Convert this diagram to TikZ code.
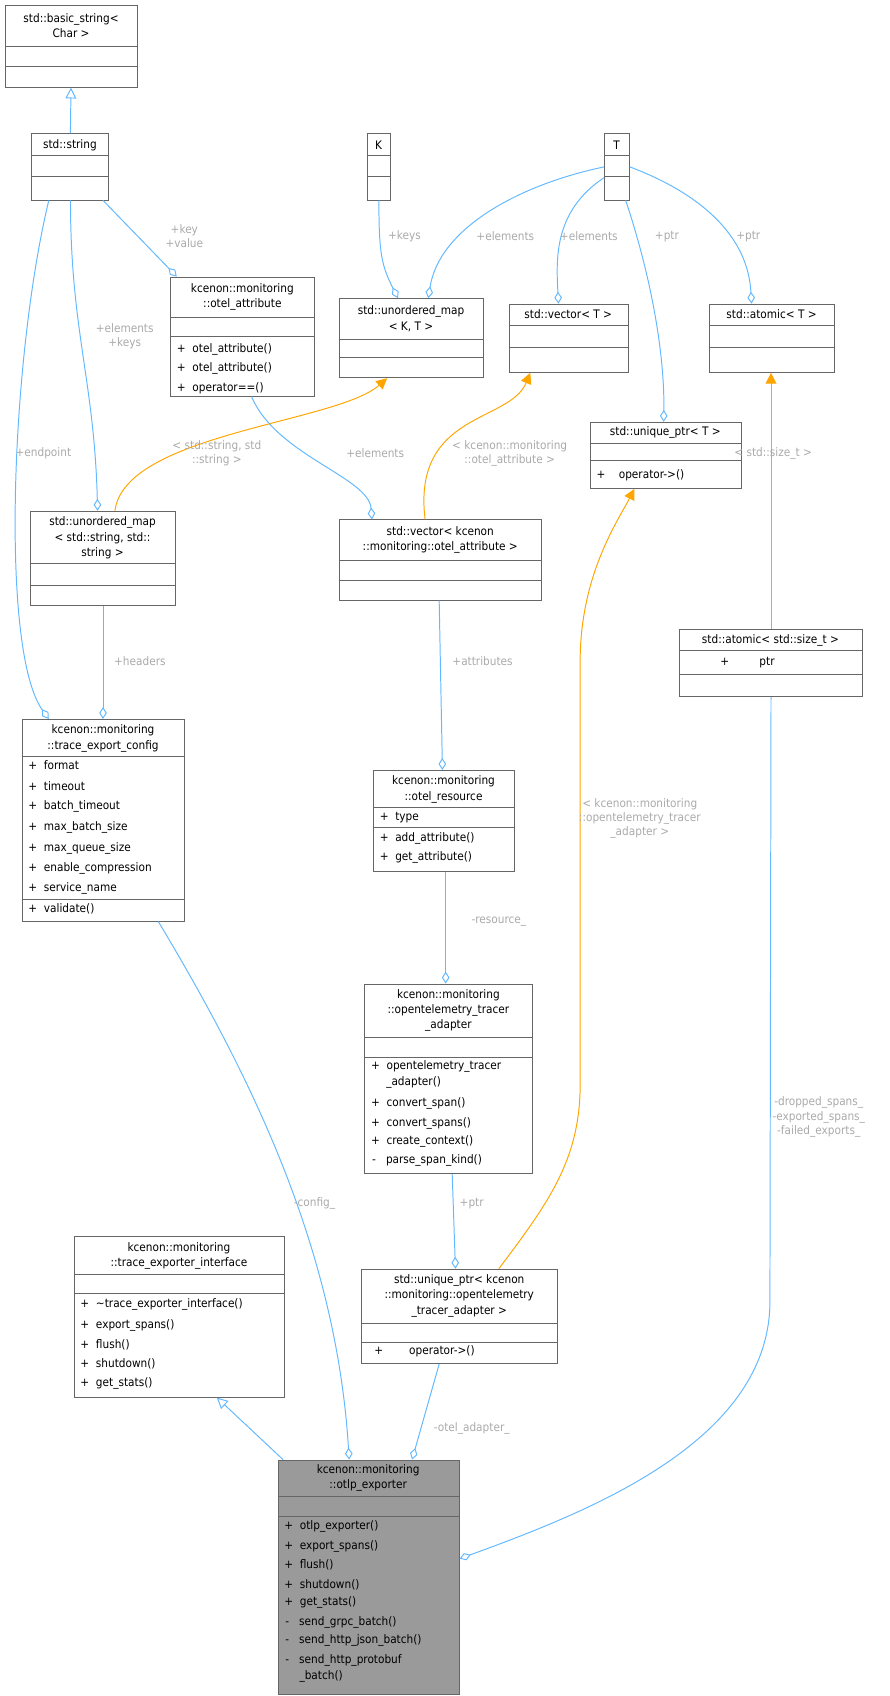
\documentclass[tikz,border=0pt]{standalone}
\usepackage{fontspec}
\setmainfont{DejaVu Sans Condensed}
\usetikzlibrary{arrows.meta}
\definecolor{eblue}{HTML}{63B8FF}
\definecolor{eorange}{HTML}{FFA500}
\definecolor{lgray}{HTML}{9A9A9A}
\definecolor{tgray}{HTML}{AAAAAA}
\definecolor{bgray}{HTML}{666666}
\tikzset{
 box/.style={draw=bgray,line width=0.8pt,inner sep=0pt,anchor=north west},
 dv/.style={draw=bgray,line width=0.8pt},
 txt/.style={inner sep=0pt,font=\fontsize{10.8}{14}\selectfont,text=black},
 ttl/.style={txt,anchor=center,align=center},
 mem/.style={txt,anchor=west},
 lbl/.style={inner sep=0pt,font=\fontsize{10.8}{13}\selectfont,text=tgray,align=center},
 edge/.style={draw=eblue,line width=0.9pt},
 agg/.style={edge,-{Diamond[open,length=11pt,width=7pt]}},
 inh/.style={edge,-{Triangle[open,length=10pt,width=10pt]}},
 tpl/.style={draw=eorange,line width=0.9pt,-{Triangle[length=10pt,width=10pt]}},
}
\newcommand\bx[6][white]{\node[box,fill=#1,minimum width={#5pt-#3pt},minimum height={#6pt-#4pt}] (#2) at (#3,#4) {};}
\newcommand\dvl[3]{\draw[dv] (#1,#3) -- (#2,#3);}
\begin{document}
\begin{tikzpicture}[x=1pt,y=-1pt]
\useasboundingbox (0,0) rectangle (820,1564);
% boxes
\bx{bs}{5}{5}{126}{80}\dvl{5}{126}{43}\dvl{5}{126}{61}
\node[ttl] (bst) at (65.5,24) {std::basic\_string<\\Char >};
\bx{str}{29}{123}{100}{184}\dvl{29}{100}{143}\dvl{29}{100}{163}
\node[ttl] (strt) at (64.5,134) {std::string};
\bx{K}{338}{123}{360}{184}\dvl{338}{360}{143}\dvl{338}{360}{163}
\node[ttl] (Kt) at (349,134) {K};
\bx{T}{557}{123}{580}{184}\dvl{557}{580}{143}\dvl{557}{580}{163}
\node[ttl] (Tt) at (568.5,134) {T};
\bx{oa}{157}{255}{290}{365}\dvl{157}{290}{293}\dvl{157}{290}{310}
\node[ttl] (oat) at (223.5,274) {kcenon::monitoring\\::otel\_attribute};
\node[mem] (oa1) at (163,322) {+\ \ otel\_attribute()};
\node[mem] (oa2) at (163,340) {+\ \ otel\_attribute()};
\node[mem] (oa3) at (163,358) {+\ \ operator==()};
\bx{umKT}{313}{275}{445}{348}\dvl{313}{445}{313}\dvl{313}{445}{330}
\node[ttl] (umKTt) at (379,294) {std::unordered\_map\\< K, T >};
\bx{vT}{469}{280}{579}{343}\dvl{469}{579}{300}\dvl{469}{579}{320}
\node[ttl] (vTt) at (524,290) {std::vector< T >};
\bx{aT}{654}{280}{769}{343}\dvl{654}{769}{300}\dvl{654}{769}{320}
\node[ttl] (aTt) at (711.5,290) {std::atomic< T >};
\bx{upT}{544}{389}{683}{450}\dvl{544}{683}{409}\dvl{544}{683}{425}
\node[ttl] (upTt) at (613.5,399) {std::unique\_ptr< T >};
\node[mem] (upT1) at (550,438) {+\ \ \ \ operator->()};
\bx{umSS}{28}{471}{161}{558}\dvl{28}{161}{520}\dvl{28}{161}{540}
\node[ttl] (umSSt) at (94.5,496) {std::unordered\_map\\< std::string, std::\\string >};
\bx{vOA}{313}{479}{499}{553}\dvl{313}{499}{517}\dvl{313}{499}{535}
\node[ttl] (vOAt) at (406,498) {std::vector< kcenon\\::monitoring::otel\_attribute >};
\bx{aST}{626}{580}{795}{642}\dvl{626}{795}{600}\dvl{626}{795}{622}
\node[ttl] (aSTt) at (710.5,591) {std::atomic< std::size\_t >};
\node[mem] (aST1) at (664,611) {+\hspace{28pt}ptr};
\bx{tec}{20}{663}{170}{849}\dvl{20}{170}{698}\dvl{20}{170}{829}
\node[ttl] (tect) at (95,681) {kcenon::monitoring\\::trace\_export\_config};
\node[mem] (tec1) at (26,706) {+\ \ format};
\node[mem] (tec2) at (26,725) {+\ \ timeout};
\node[mem] (tec3) at (26,744) {+\ \ batch\_timeout};
\node[mem] (tec4) at (26,763) {+\ \ max\_batch\_size};
\node[mem] (tec5) at (26,782) {+\ \ max\_queue\_size};
\node[mem] (tec6) at (26,801) {+\ \ enable\_compression};
\node[mem] (tec7) at (26,819) {+\ \ service\_name};
\node[mem] (tec8) at (26,838) {+\ \ validate()};
\bx{ores}{344}{710}{474}{803}\dvl{344}{474}{745}\dvl{344}{474}{763}
\node[ttl] (orest) at (409,728) {kcenon::monitoring\\::otel\_resource};
\node[mem] (ores1) at (350,754) {+\ \ type};
\node[mem] (ores2) at (350,773) {+\ \ add\_attribute()};
\node[mem] (ores3) at (350,791) {+\ \ get\_attribute()};
\bx{ota}{336}{907}{491}{1082}\dvl{336}{491}{957}\dvl{336}{491}{975}
\node[ttl] (otat) at (413.5,932) {kcenon::monitoring\\::opentelemetry\_tracer\\\_adapter};
\node[mem] (ota1) at (342,983) {+\ \ opentelemetry\_tracer};
\node[mem] (ota1b) at (356,998) {\_adapter()};
\node[mem] (ota2) at (342,1018) {+\ \ convert\_span()};
\node[mem] (ota3) at (342,1036) {+\ \ convert\_spans()};
\node[mem] (ota4) at (342,1053) {+\ \ create\_context()};
\node[mem] (ota5) at (343,1070) {-\ \ \ parse\_span\_kind()};
\bx{tei}{68}{1140}{262}{1288}\dvl{68}{262}{1175}\dvl{68}{262}{1193}
\node[ttl] (teit) at (165,1158) {kcenon::monitoring\\::trace\_exporter\_interface};
\node[mem] (tei1) at (74,1203) {+\ \ \textasciitilde trace\_exporter\_interface()};
\node[mem] (tei2) at (74,1222) {+\ \ export\_spans()};
\node[mem] (tei3) at (74,1240) {+\ \ flush()};
\node[mem] (tei4) at (74,1258) {+\ \ shutdown()};
\node[mem] (tei5) at (74,1276) {+\ \ get\_stats()};
\bx{upA}{333}{1170}{514}{1257}\dvl{333}{514}{1220}\dvl{333}{514}{1238}
\node[ttl] (upAt) at (423.5,1195) {std::unique\_ptr< kcenon\\::monitoring::opentelemetry\\\_tracer\_adapter >};
\node[mem] (upA1) at (345,1246) {+\hspace{24pt}operator->()};
\bx[lgray]{otlp}{256}{1346}{423}{1562}\dvl{256}{423}{1380}\dvl{256}{423}{1398}
\node[ttl] (otlpt) at (339.5,1363) {kcenon::monitoring\\::otlp\_exporter};
\node[mem] (o1) at (262,1408) {+\ \ otlp\_exporter()};
\node[mem] (o2) at (262,1426) {+\ \ export\_spans()};
\node[mem] (o3) at (262,1443) {+\ \ flush()};
\node[mem] (o4) at (262,1461) {+\ \ shutdown()};
\node[mem] (o5) at (262,1478) {+\ \ get\_stats()};
\node[mem] (o6) at (263,1496) {-\ \ \ send\_grpc\_batch()};
\node[mem] (o7) at (263,1513) {-\ \ \ send\_http\_json\_batch()};
\node[mem] (o8) at (263,1531) {-\ \ \ send\_http\_protobuf};
\node[mem] (o8b) at (276,1546) {\_batch()};
% edges
\draw[inh] (str.north) -- ([xshift=60.5pt]bs.south west);
\draw[agg] ([xshift=66pt]str.south west) -- ([xshift=6pt]oa.north west);
\node[lbl] (l1) at (170,218) {+key\\+value};
\draw[agg] ([xshift=36pt]str.south west) .. controls +(0,120) and +(-3,-120) .. ([xshift=62pt]umSS.north west);
\node[lbl] (l2) at (115,310) {+elements\\+keys};
\draw[agg] ([xshift=16pt]str.south west) .. controls (10,330) and (0,600) .. ([xshift=25pt]tec.north west);
\node[lbl] (l3) at (40,418) {+endpoint};
\draw[agg] (K.south) .. controls +(0,50) and +(-15,-30) .. ([xshift=54pt]umKT.north west);
\node[lbl] (l4) at (373,218) {+keys};
\draw[agg] (T.west) .. controls (480,170) and (405,210) .. ([xshift=82pt]umKT.north west);
\node[lbl] (l5) at (466,218) {+elements};
\draw[agg] ([yshift=-10pt]T.west) .. controls (510,195) and (513,240) .. ([xshift=46pt]vT.north west);
\node[lbl] (l6) at (543,218) {+elements};
\draw[agg] ([xshift=20pt]T.south west) .. controls (602,260) and (613,330) .. ([xshift=68pt]upT.north west);
\node[lbl] (l7) at (615,218) {+ptr};
\draw[agg] (T.east) .. controls (650,180) and (690,220) .. ([xshift=39pt]aT.north west);
\node[lbl] (l8) at (690,218) {+ptr};
\draw[tpl] ([xshift=78pt]umSS.north west) .. controls (115,400) and (310,390) .. ([xshift=44pt]umKT.south west);
\node[lbl] (l9) at (200,418) {< std::string, std\\::string >};
\draw[agg] ([xshift=75pt]oa.south west) .. controls (255,420) and (340,440) .. ([xshift=30pt]vOA.north west);
\node[lbl] (l10) at (346,418) {+elements};
\draw[tpl] ([xshift=79pt]vOA.north west) .. controls (380,380) and (470,390) .. ([xshift=20pt]vT.south west);
\node[lbl] (l11) at (470,418) {< kcenon::monitoring\\::otel\_attribute >};
\draw[tpl] ([xshift=85pt]aST.north west) -- ([xshift=57pt]aT.south west);
\node[lbl] (l12) at (713,418) {< std::size\_t >};
\draw[agg] ([xshift=67pt]umSS.south west) -- ([xshift=75pt]tec.north west);
\node[lbl] (l13) at (129,610) {+headers};
\draw[agg] ([xshift=92pt]vOA.south west) -- ([xshift=64pt]ores.north west);
\node[lbl] (l14) at (445,610) {+attributes};
\draw[agg] ([xshift=67pt]ores.south west) -- ([xshift=75pt]ota.north west);
\node[lbl] (l15) at (460,850) {-resource\_};
\draw[agg] ([xshift=81pt]ota.south west) -- ([xshift=87pt]upA.north west);
\node[lbl] (l16) at (435,1110) {+ptr};
\draw[tpl] ([xshift=127pt]upA.north west) .. controls (505,1110) and (535,1070) .. (535,1000) -- (535,610) .. controls (535,530) and (570,480) .. ([xshift=41pt]upT.south west);
\node[lbl] (l17) at (590,755) {< kcenon::monitoring\\::opentelemetry\_tracer\\\_adapter >};
\draw[agg] ([xshift=126pt]tec.south west) .. controls (230,990) and (310,1150) .. ([xshift=66pt]otlp.north west);
\node[lbl] (l18) at (290,1110) {-config\_};
\draw[agg] ([xshift=72pt]upA.south west) -- ([xshift=124pt]otlp.north west);
\node[lbl] (l19) at (435,1317) {-otel\_adapter\_};
\draw[agg] ([xshift=85pt]aST.south west) -- (710,1200) .. controls (710,1330) and (540,1395) .. ([yshift=17pt]otlp.east);
\node[lbl] (l20) at (755,1030) {-dropped\_spans\_\\-exported\_spans\_\\-failed\_exports\_};
\draw[inh] ([xshift=5pt]otlp.north west) -- ([xshift=132pt]tei.south west);
\end{tikzpicture}
\end{document}
